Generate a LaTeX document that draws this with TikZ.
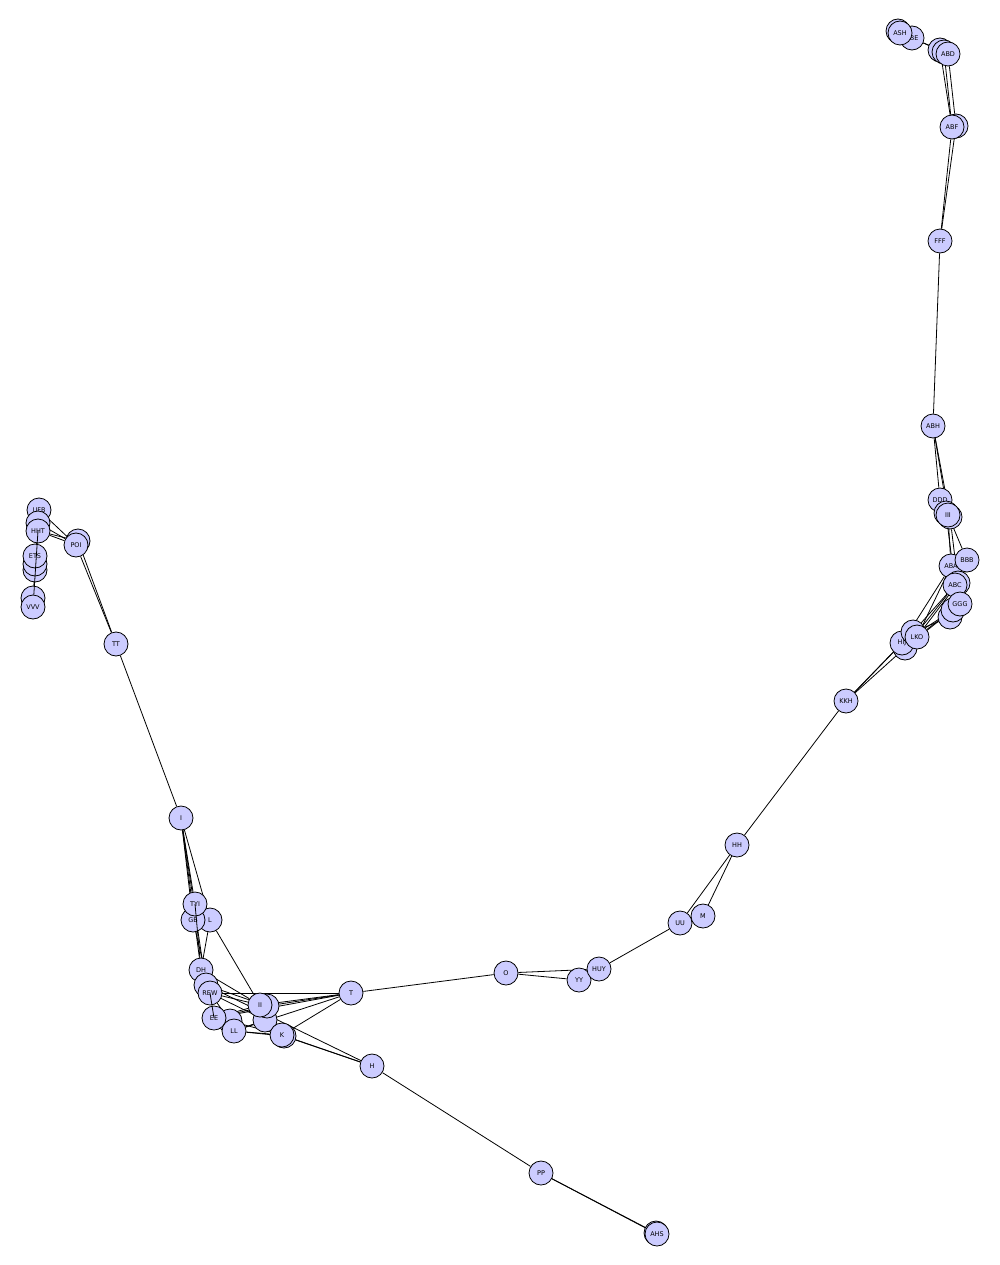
\documentclass[tikz,border=0pt]{standalone}
\usepackage{fontspec}
\setmainfont{DejaVu Sans}
\pgfdeclarelayer{bg}
\pgfsetlayers{bg,main}
\definecolor{nodefill}{RGB}{204,204,255}
\tikzset{
  vtx/.style={circle,draw=black,line width=0.8pt,fill=nodefill,minimum size=24pt,inner sep=0pt,font=\fontsize{6.5}{7}\selectfont},
  edge/.style={draw=black,line width=0.8pt}
}
\begin{document}
\begin{tikzpicture}[x=1pt,y=-1pt]
\useasboundingbox (0,0) rectangle (1000,1265);
% top right
\node[vtx] (ash0) at (898,31) {};
\node[vtx] (abe) at (912,38) {ABE};
\node[vtx] (ash) at (900,33) {ASH};
\node[vtx] (abd0) at (940,50) {};
\node[vtx] (abd1) at (944,52) {};
\node[vtx] (abd) at (948,54) {ABD};
\node[vtx] (abf0) at (956,126) {};
\node[vtx] (abf) at (952,127) {ABF};
\node[vtx] (fff) at (940,241) {FFF};
\node[vtx] (abh) at (933,426) {ABH};
\node[vtx] (ddd) at (940,500) {DDD};
\node[vtx] (iii0) at (950,517) {};
\node[vtx] (iii1) at (946,513) {};
\node[vtx] (iii) at (948,515) {III};
\node[vtx] (aba) at (951,566) {ABA};
\node[vtx] (bbb) at (967,560) {BBB};
\node[vtx] (abc0) at (958,583) {};
\node[vtx] (abc) at (955,585) {ABC};
\node[vtx] (g1) at (950,617) {};
\node[vtx] (g2) at (953,610) {};
\node[vtx] (ggg) at (960,604) {GGG};
\node[vtx] (hij0) at (905,648) {};
\node[vtx] (hij) at (902,643) {HIJ};
\node[vtx] (lko0) at (913,632) {};
\node[vtx] (lko) at (917,637) {LKO};
\node[vtx] (kkh) at (846,701) {KKH};
\node[vtx] (hh) at (737,845) {HH};
\node[vtx] (m) at (703,916) {M};
\node[vtx] (uu) at (680,923) {UU};
\node[vtx] (yy) at (579,980) {YY};
\node[vtx] (huy) at (599,969) {HUY};
\node[vtx] (o) at (506,973) {O};
\node[vtx] (t) at (351,993) {T};
\node[vtx] (h) at (372,1066) {H};
\node[vtx] (pp) at (541,1173) {PP};
\node[vtx] (ahs0) at (656,1233) {};
\node[vtx] (ahs) at (657,1234) {AHS};
% left
\node[vtx] (i) at (181,818) {I};
\node[vtx] (tt) at (116,644) {TT};
\node[vtx] (poi0) at (78,541) {};
\node[vtx] (poi) at (76,545) {POI};
\node[vtx] (ufb) at (39,510) {UFB};
\node[vtx] (l1) at (38,523) {};
\node[vtx] (hht) at (38,531) {HHT};
\node[vtx] (l3) at (35,570) {};
\node[vtx] (l2) at (35,564) {};
\node[vtx] (ets) at (35,556) {ETS};
\node[vtx] (l4) at (33,598) {};
\node[vtx] (vvv) at (33,607) {VVV};
% bottom-left cluster
\node[vtx] (l) at (210,920) {L};
\node[vtx] (gb) at (193,920) {GB};
\node[vtx] (tyi) at (195,904) {TYI};
\node[vtx] (dh) at (201,970) {DH};
\node[vtx] (c1) at (206,985) {};
\node[vtx] (rew) at (210,993) {REW};
\node[vtx] (c2) at (230,1021) {};
\node[vtx] (ee) at (214,1018) {EE};
\node[vtx] (ll) at (234,1031) {LL};
\node[vtx] (c4) at (265,1020) {};
\node[vtx] (c3) at (267,1006) {};
\node[vtx] (ii) at (260,1005) {II};
\node[vtx] (k0) at (284,1036) {};
\node[vtx] (k) at (282,1035) {K};
% a few connectors that lie over nodes
\draw[edge] (hht.center) -- (vvv);
\draw[edge] (tyi.center) -- (dh);
\draw[edge] (rew.center) -- (ee.center);
\begin{pgfonlayer}{bg}
\draw[edge] (ash) -- (abe) -- (abd0);
\draw[edge] (abe) -- (abd);
\draw[edge] (abd) -- (abf0);
\draw[edge] (abd0) -- (abf);
\draw[edge] (abd1) -- (abf);
\draw[edge] (abf) -- (fff);
\draw[edge] (abf0) -- (fff);
\draw[edge] (fff) -- (abh);
\draw[edge] (abh) -- (ddd);
\draw[edge] (abh) -- (iii);
\draw[edge] (abh) -- (iii0);
\draw[edge] (iii) -- (aba);
\draw[edge] (iii1) -- (abc);
\draw[edge] (iii0) -- (abc0);
\draw[edge] (iii) -- (bbb);
\draw[edge] (bbb) -- (abc);
\draw[edge] (bbb) -- (ggg);
\draw[edge] (aba) -- (hij);
\draw[edge] (aba) -- (lko);
\draw[edge] (abc) -- (lko0);
\draw[edge] (abc0) -- (lko);
\draw[edge] (abc) -- (hij0);
\draw[edge] (ggg) -- (lko);
\draw[edge] (g1) -- (lko0);
\draw[edge] (g2) -- (hij);
\draw[edge] (ggg) -- (hij0);
\draw[edge] (lko) -- (kkh);
\draw[edge] (lko0) -- (kkh);
\draw[edge] (hij) -- (kkh);
\draw[edge] (kkh) -- (hh);
\draw[edge] (hh) -- (m);
\draw[edge] (hh) -- (uu);
\draw[edge] (uu) -- (huy);
\draw[edge] (huy) -- (yy);
\draw[edge] (huy) -- (o);
\draw[edge] (yy) -- (o);
\draw[edge] (o) -- (t);
\draw[edge] (t) -- (ii);
\draw[edge] (t) -- (c3);
\draw[edge] (t) -- (rew);
\draw[edge] (t) -- (ee);
\draw[edge] (t) -- (k);
\draw[edge] (t) -- (ll);
\draw[edge] (h) -- (c1);
\draw[edge] (h) -- (k);
\draw[edge] (h) -- (k0);
\draw[edge] (h) -- (pp);
\draw[edge] (pp) -- (ahs);
\draw[edge] (pp) -- (ahs0);
\draw[edge] (i) -- (tt);
\draw[edge] (tt) -- (poi);
\draw[edge] (tt) -- (poi0);
\draw[edge] (poi) -- (hht);
\draw[edge] (poi) -- (l1);
\draw[edge] (poi) -- (ufb);
\draw[edge] (poi0) -- (hht);
\draw[edge] (l1) -- (l4);
\draw[edge] (i) -- (tyi);
\draw[edge] (i) -- (gb);
\draw[edge] (i) -- (l);
\draw[edge] (i) -- (dh);
\draw[edge] (i) -- (c1);
\draw[edge] (gb) -- (rew);
\draw[edge] (l) -- (dh);
\draw[edge] (l) -- (ii);
\draw[edge] (dh) -- (ii);
\draw[edge] (c1) -- (c3);
\draw[edge] (rew) -- (ii);
\draw[edge] (rew) -- (c4);
\draw[edge] (rew) -- (c2);
\draw[edge] (ee) -- (c3);
\draw[edge] (ee) -- (ii);
\draw[edge] (ll) -- (k);
\draw[edge] (ll) -- (c4);
\draw[edge] (ll) -- (k0);
\draw[edge] (c2) -- (k);
\draw[edge] (ii) -- (k);
\end{pgfonlayer}
\end{tikzpicture}
\end{document}
